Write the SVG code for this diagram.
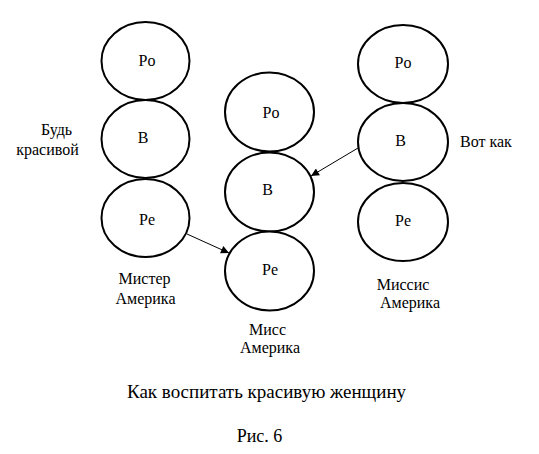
<svg xmlns="http://www.w3.org/2000/svg" width="539" height="454" viewBox="0 0 539 454">
<style>
.n{fill:#fff;stroke:#000;stroke-width:2}
.c{text-anchor:middle}
.e{stroke:#000;stroke-width:1;fill:none}
</style>
<defs>
<marker id="ah" viewBox="0 0 10 10" refX="10" refY="5" markerWidth="10" markerHeight="8" markerUnits="userSpaceOnUse" orient="auto">
<path d="M0,0 L10,5 L0,10 z" fill="#000"/>
</marker>
</defs>
<rect width="539" height="454" fill="#fff"/>
<g font-family="Liberation Serif, Times New Roman, serif" font-size="16" fill="#000">
<g id="left-po"><ellipse class="n" cx="145.5" cy="61" rx="44" ry="39"/><text class="c" x="147" y="66">Po</text></g>
<g id="left-b"><ellipse class="n" cx="145.5" cy="139" rx="44" ry="39"/><text class="c" x="143" y="143">В</text></g>
<g id="left-pe"><ellipse class="n" cx="145.5" cy="218" rx="44" ry="39"/><text class="c" x="147" y="225">Pe</text></g>
<g id="mid-po"><ellipse class="n" cx="269.5" cy="112" rx="44.5" ry="39.5"/><text class="c" x="271" y="118">Po</text></g>
<g id="mid-b"><ellipse class="n" cx="269.5" cy="192" rx="44.5" ry="39.5"/><text class="c" x="267.5" y="195">В</text></g>
<g id="mid-pe"><ellipse class="n" cx="269.5" cy="271" rx="44.5" ry="39.5"/><text class="c" x="270" y="275">Pe</text></g>
<g id="right-po"><ellipse class="n" cx="403" cy="64" rx="45" ry="39"/><text class="c" x="403" y="68">Po</text></g>
<g id="right-b"><ellipse class="n" cx="403" cy="142" rx="45" ry="39"/><text class="c" x="400.5" y="146">В</text></g>
<g id="right-pe"><ellipse class="n" cx="403" cy="222" rx="45" ry="39"/><text class="c" x="403" y="226">Pe</text></g>
<g id="connectors">
<line class="e" x1="187" y1="234" x2="229" y2="253" marker-end="url(#ah)"/>
<line class="e" x1="358" y1="148" x2="311" y2="176" marker-end="url(#ah)"/>
</g>
<g id="labels">
<text class="c" x="56.5" y="135">Будь</text>
<text class="c" x="47.5" y="155">красивой</text>
<text x="460" y="147">Вот как</text>
<text class="c" x="144.5" y="284">Мистер</text>
<text class="c" x="145.5" y="304">Америка</text>
<text class="c" x="267.5" y="335">Мисс</text>
<text class="c" x="270" y="353">Америка</text>
<text class="c" x="403" y="290">Миссис</text>
<text class="c" x="410" y="308">Америка</text>
<text class="c" x="266.5" y="398" font-size="19">Как воспитать красивую женщину</text>
<text class="c" x="259.5" y="442" font-size="18">Рис. 6</text>
</g>
</g>
</svg>
